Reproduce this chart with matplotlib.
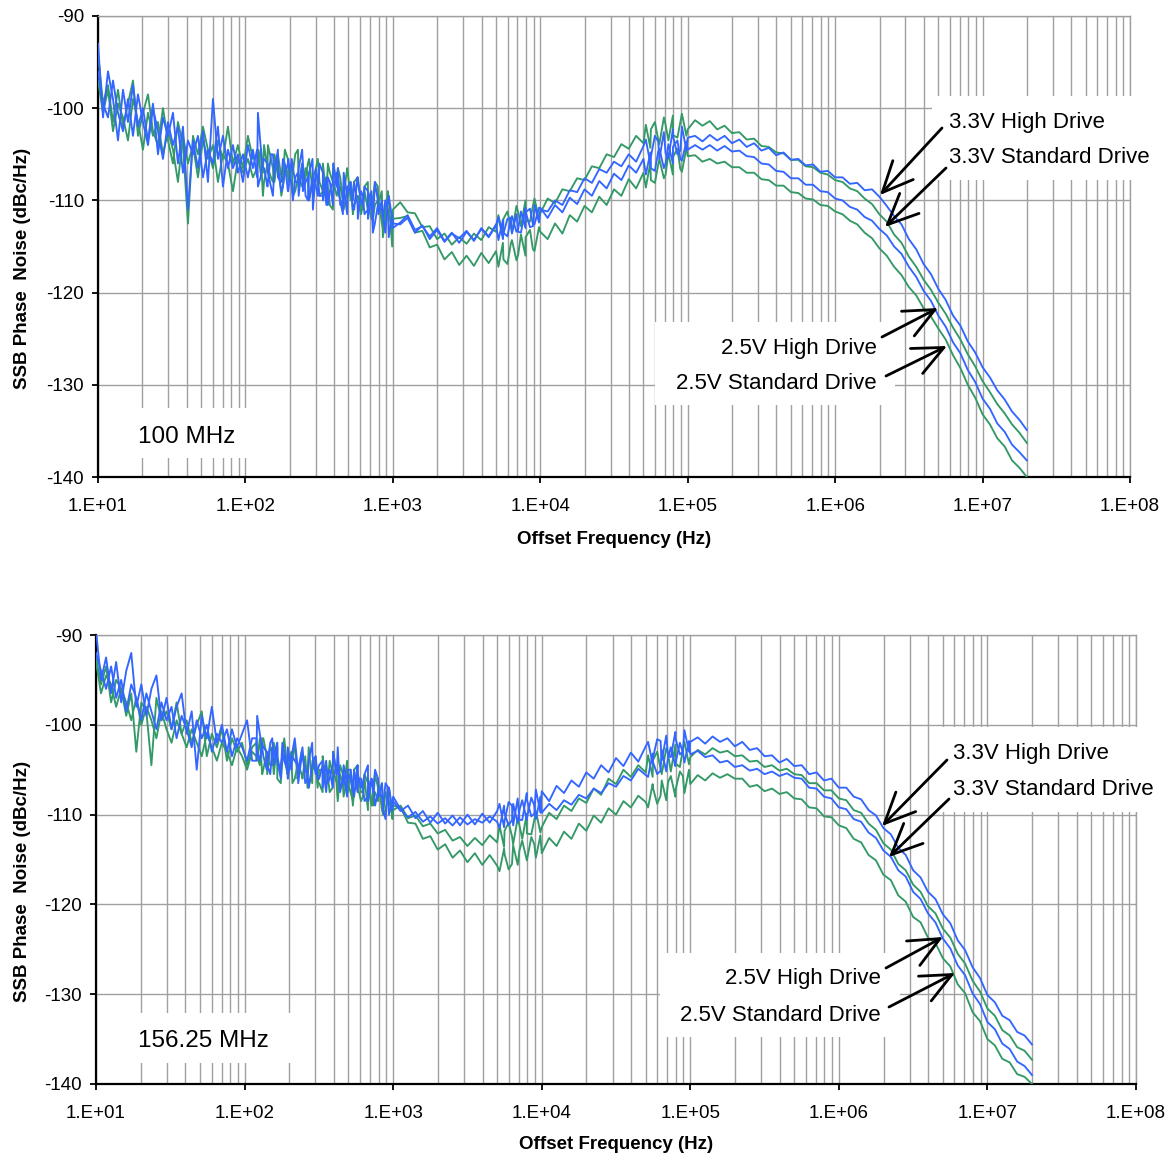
import numpy as np
import matplotlib
matplotlib.use('Agg')
import matplotlib.pyplot as plt
from matplotlib.ticker import FixedLocator, FuncFormatter, LogLocator, NullFormatter
from matplotlib.patches import Rectangle, FancyArrowPatch

plt.rcParams['font.family'] = ['Liberation Sans', 'DejaVu Sans']
plt.rcParams['axes.unicode_minus'] = False

W, H = 1166, 1157

# ---------------- sample frequencies (Hz) of the measurement segments
freq_lo = np.geomspace(10, 1000, 60)          # 10 Hz .. 1 kHz
freq_lo_x = np.geomspace(120, 990, 40)        # extra dense samples 120 Hz .. 1 kHz
freq_mid = 10 ** np.linspace(3.05, 5.0, 40)   # 1 kHz .. 100 kHz
freq_mid_x = np.concatenate([np.geomspace(5.2e3, 9.8e3, 10), np.geomspace(5.2e4, 9.8e4, 10)])
freq_hi = 10 ** np.linspace(5.05, 7.3, 46)    # 100 kHz .. 20 MHz

labels = ["3.3V High Drive", "3.3V Standard Drive", "2.5V High Drive", "2.5V Standard Drive"]

# ======================= 100 MHz (top) =======================
top_33hd_lo = [-93.0, -101.0, -96.0, -99.0, -103.5, -98.0, -101.5, -97.5, -102.0, -100.0,
               -103.5, -99.5, -105.0, -101.0, -103.0, -100.5, -106.0, -102.0, -111.0, -103.5,
               -106.5, -102.5, -108.0, -99.0, -105.5, -103.0, -106.5, -104.0, -107.0, -105.0,
               -107.5, -104.5, -100.5, -106.5, -108.0, -105.0, -107.5, -105.5, -109.0, -106.5,
               -108.0, -106.0, -110.0, -107.5, -109.5, -107.0, -110.5, -108.0, -106.5, -110.0,
               -108.5, -111.0, -108.0, -110.5, -109.0, -112.5, -110.0, -111.5, -110.0, -113.0]
top_33sd_lo = [-96.0, -99.5, -101.0, -97.0, -100.5, -102.5, -99.0, -103.0, -98.5, -101.5,
               -104.0, -100.0, -102.5, -105.5, -101.5, -104.0, -102.0, -107.0, -103.5, -105.0,
               -103.0, -107.5, -104.5, -106.0, -102.0, -108.5, -104.5, -106.5, -105.0, -108.0,
               -104.0, -106.5, -108.5, -105.5, -107.0, -109.5, -106.5, -108.5, -106.0, -110.0,
               -107.0, -109.0, -107.5, -111.0, -108.0, -109.5, -107.5, -110.5, -109.0, -111.5,
               -108.5, -110.0, -112.0, -109.5, -111.0, -113.5, -110.5, -112.0, -111.0, -112.5]
top_25hd_lo = [-94.0, -99.5, -97.5, -101.5, -98.0, -102.0, -99.5, -97.0, -103.0, -100.5,
               -98.5, -102.5, -104.0, -100.0, -103.5, -106.0, -101.5, -104.0, -112.5, -103.0,
               -105.0, -102.0, -104.5, -106.5, -103.5, -105.5, -102.0, -106.0, -104.0, -106.5,
               -103.0, -105.5, -104.5, -107.0, -104.0, -106.5, -105.0, -108.0, -105.5, -107.0,
               -104.5, -108.5, -106.0, -107.5, -105.5, -109.0, -106.0, -108.0, -106.5, -110.0,
               -107.0, -109.0, -107.5, -111.0, -108.0, -110.0, -108.5, -114.0, -109.0, -111.0]
top_25sd_lo = [-97.0, -100.5, -98.0, -102.5, -99.5, -101.0, -103.5, -99.0, -101.5, -104.5,
               -100.5, -103.0, -101.5, -105.0, -102.5, -104.5, -108.0, -103.0, -106.0, -104.0,
               -107.5, -103.5, -105.5, -104.0, -108.0, -105.0, -106.0, -109.0, -105.5, -107.0,
               -105.5, -107.5, -106.0, -109.5, -106.5, -108.0, -106.0, -108.5, -107.0, -109.5,
               -107.5, -108.5, -107.0, -110.0, -108.0, -109.0, -108.5, -111.0, -109.0, -110.0,
               -109.5, -111.5, -109.5, -110.5, -111.0, -112.0, -110.0, -113.0, -111.0, -112.0]

top_33hd_lox = [-107.5, -104.0, -106.5, -108.5, -105.0, -107.0, -104.5, -108.0, -106.0, -109.0,
                -105.5, -108.0, -106.5, -104.5, -109.5, -107.0, -105.5, -108.5, -106.0, -110.0,
                -107.5, -109.0, -106.0, -108.5, -110.5, -107.0, -109.5, -108.0, -111.0, -107.5,
                -110.0, -108.5, -112.0, -109.5, -108.0, -111.5, -110.0, -113.5, -109.5, -112.0]
top_33sd_lox = [-104.5, -107.5, -105.5, -106.0, -108.5, -106.5, -105.0, -109.0, -107.0, -105.5,
                -108.5, -107.5, -109.5, -106.0, -108.0, -110.0, -107.5, -106.5, -109.5, -107.5,
                -110.5, -108.0, -109.0, -107.0, -110.0, -108.5, -111.5, -109.0, -108.0, -110.5,
                -109.0, -111.5, -110.0, -109.0, -112.5, -110.5, -111.0, -110.0, -114.0, -111.5]
top_25hd_lox = [-105.0, -107.0, -104.0, -106.5, -105.5, -108.0, -105.0, -107.5, -104.5, -107.0,
                -106.5, -105.0, -108.5, -106.0, -107.5, -105.5, -109.0, -106.5, -108.0, -106.0,
                -109.5, -107.0, -106.0, -108.5, -107.5, -109.5, -106.5, -110.0, -108.0, -107.5,
                -110.5, -108.5, -109.0, -111.0, -108.0, -110.5, -109.0, -112.0, -110.0, -115.0]
top_25sd_lox = [-106.5, -104.5, -108.0, -106.0, -107.5, -105.0, -107.0, -109.5, -106.5, -108.0,
                -106.0, -109.0, -107.5, -108.5, -106.5, -110.0, -108.0, -107.0, -109.5, -108.5,
                -107.5, -110.5, -108.0, -109.5, -108.5, -111.0, -109.0, -108.0, -110.5, -109.5,
                -111.5, -109.0, -110.0, -112.0, -110.5, -109.5, -112.5, -110.5, -111.5, -113.0]

top_33hd_mid = [-112.4, -111.6, -113.2, -112.8, -113.9, -113.0, -114.4, -113.5, -114.6,
                -113.4, -114.3, -113.1, -114.0, -112.7, -113.6, -111.9, -113.4, -111.2, -112.8,
                -111.0, -111.2, -110.0, -110.5, -108.9, -109.1, -107.6, -108.1, -106.6, -107.0,
                -105.8, -106.3, -105.0, -105.8, -104.1, -105.3, -103.6, -104.9, -103.0, -104.6, -103.2]
top_33sd_mid = [-112.6, -111.9, -113.5, -112.7, -114.2, -113.2, -114.5, -113.6, -114.1,
                -113.3, -114.4, -113.0, -113.9, -112.6, -113.5, -112.0, -113.1, -111.3, -112.6,
                -110.8, -111.9, -110.5, -111.3, -109.7, -110.4, -108.8, -109.5, -107.9, -108.7,
                -107.1, -107.8, -106.2, -107.0, -105.5, -106.5, -104.7, -106.0, -104.2, -105.5, -104.5]
top_25hd_mid = [-110.2, -111.3, -111.4, -112.9, -112.8, -114.2, -113.6, -114.8, -114.0,
                -114.7, -113.6, -114.3, -112.9, -113.4, -112.0, -112.8, -111.3, -112.2, -110.6,
                -111.4, -109.8, -110.3, -108.8, -109.0, -107.6, -107.8, -106.3, -106.5, -105.0,
                -105.3, -103.9, -104.4, -103.0, -103.8, -102.3, -103.4, -101.8, -102.9, -101.5, -102.3]
top_25sd_mid = [-111.9, -111.7, -113.5, -113.3, -115.1, -114.8, -116.4, -115.6, -117.0,
                -116.0, -117.1, -115.7, -116.8, -115.5, -116.4, -114.7, -115.9, -114.0, -115.3,
                -113.4, -114.2, -112.5, -113.6, -111.6, -112.3, -110.6, -111.3, -109.6, -110.5,
                -108.8, -109.5, -107.7, -108.7, -107.0, -107.8, -106.1, -107.2, -105.3, -106.6, -105.2]

top_33hd_midx = [-111.8, -114.2, -112.0, -113.6, -111.5, -113.5, -110.8, -112.9, -110.5, -112.4,
                 -103.4, -106.0, -103.0, -105.5, -102.6, -105.4, -102.3, -105.0, -102.0, -104.6]
top_33sd_midx = [-114.3, -112.1, -113.9, -111.7, -113.4, -111.2, -113.0, -110.9, -112.6, -110.8,
                 -107.2, -104.8, -106.8, -104.4, -106.5, -103.9, -106.0, -103.5, -105.7, -103.6]
top_25hd_midx = [-111.6, -113.9, -111.2, -113.5, -110.6, -112.8, -110.0, -112.3, -109.8, -112.0,
                 -101.8, -104.3, -101.5, -103.9, -101.0, -103.5, -100.8, -103.2, -100.6, -103.0]
top_25sd_midx = [-117.2, -114.6, -116.9, -114.3, -116.5, -113.7, -116.0, -113.2, -115.5, -112.9,
                 -108.6, -105.9, -108.1, -105.5, -107.6, -104.9, -107.2, -104.4, -106.9, -104.3]

top_33hd_hi = [-103.0, -103.6, -102.9, -103.5, -103.0, -103.8, -103.4, -104.2, -103.8,
               -104.6, -104.3, -105.1, -104.8, -105.6, -105.5, -106.2, -106.1, -106.9, -106.8,
               -107.5, -107.5, -108.2, -108.1, -108.9, -108.8, -109.6, -110.6, -111.7, -112.6,
               -114.2, -115.3, -116.9, -118.0, -119.6, -120.8, -122.5, -123.6, -125.3, -126.5,
               -128.1, -129.2, -130.6, -131.6, -132.9, -133.8, -134.9]
top_33sd_hi = [-104.0, -104.5, -104.0, -104.6, -104.1, -104.7, -104.6, -105.2, -105.3,
               -106.0, -106.1, -106.8, -106.9, -107.6, -107.6, -108.3, -108.3, -109.0, -109.1,
               -109.8, -110.0, -110.7, -111.0, -111.8, -112.2, -113.1, -113.8, -115.0, -115.8,
               -117.2, -118.3, -119.8, -120.9, -122.5, -123.7, -125.4, -126.6, -128.4, -129.7,
               -131.5, -132.6, -134.2, -135.1, -136.5, -137.3, -138.2]
top_25hd_hi = [-101.3, -101.9, -101.4, -102.3, -101.9, -102.7, -102.6, -103.4, -103.3,
               -104.1, -104.2, -104.8, -104.9, -105.6, -105.6, -106.3, -106.4, -107.0, -107.2,
               -107.8, -108.0, -108.7, -109.0, -109.8, -110.4, -111.5, -112.3, -113.7, -114.6,
               -116.1, -117.2, -118.6, -119.7, -121.1, -122.3, -123.8, -125.1, -126.7, -128.0,
               -129.6, -130.8, -132.1, -133.1, -134.3, -135.2, -136.3]
top_25sd_hi = [-105.1, -105.8, -105.5, -106.0, -105.8, -106.4, -106.4, -107.0, -107.0,
               -107.7, -107.8, -108.4, -108.4, -109.1, -109.2, -109.8, -109.9, -110.5, -110.6,
               -111.2, -111.5, -112.2, -112.6, -113.5, -114.1, -115.2, -116.0, -117.2, -118.1,
               -119.4, -120.3, -121.7, -122.6, -123.9, -125.1, -126.8, -128.2, -130.0, -131.4,
               -133.2, -134.3, -135.8, -136.7, -138.2, -139.0, -140.0]

# ======================= 156.25 MHz (bottom) =======================
bot_33hd_lo = [-89.5, -95.0, -92.5, -96.5, -93.0, -97.5, -94.0, -92.0, -98.0, -95.5,
               -99.0, -96.0, -94.5, -99.5, -97.0, -100.5, -98.0, -96.5, -101.0, -98.5,
               -105.0, -99.0, -101.5, -98.0, -102.0, -100.0, -103.0, -100.5, -102.5, -101.0,
               -99.5, -104.0, -99.0, -102.5, -104.5, -101.5, -103.5, -102.0, -105.0, -103.0,
               -104.5, -102.5, -106.0, -103.5, -105.0, -104.0, -106.5, -104.5, -102.5, -106.0,
               -105.0, -107.0, -105.5, -106.5, -104.5, -107.5, -106.0, -109.5, -107.0, -108.5]
bot_33sd_lo = [-92.0, -94.0, -96.0, -93.5, -97.0, -95.0, -98.5, -95.5, -97.0, -99.5,
               -96.5, -98.5, -100.5, -97.5, -99.5, -98.0, -101.5, -99.0, -100.5, -102.5,
               -99.5, -101.5, -100.0, -103.0, -101.0, -102.0, -100.5, -103.5, -101.5, -102.5,
               -104.0, -101.5, -103.0, -102.0, -104.5, -102.5, -104.0, -103.0, -105.0, -103.5,
               -104.5, -103.5, -105.5, -104.0, -106.0, -104.5, -105.5, -107.0, -105.0, -106.5,
               -105.5, -107.5, -106.0, -107.0, -108.0, -106.5, -107.5, -109.0, -107.0, -108.0]
bot_25hd_lo = [-92.5, -95.5, -93.5, -97.5, -95.0, -96.0, -99.0, -96.5, -103.0, -97.5,
               -98.5, -104.5, -97.0, -99.5, -98.5, -100.5, -97.5, -101.0, -99.5, -102.0,
               -100.0, -98.5, -103.5, -101.0, -102.5, -100.5, -104.0, -101.5, -103.0, -102.0,
               -104.5, -102.5, -103.5, -101.5, -105.5, -103.0, -104.5, -103.5, -105.0, -104.0,
               -106.0, -103.5, -105.5, -104.5, -107.0, -105.0, -106.5, -105.5, -108.0, -105.5,
               -106.5, -108.5, -106.0, -107.5, -106.5, -109.0, -107.0, -110.0, -108.0, -109.5]
bot_25sd_lo = [-93.0, -96.5, -94.5, -95.5, -98.0, -96.0, -97.5, -99.5, -97.0, -100.0,
               -98.0, -99.5, -101.5, -98.5, -100.5, -102.0, -99.5, -101.0, -102.5, -100.5,
               -102.0, -103.5, -101.0, -102.5, -104.0, -102.0, -103.0, -104.5, -102.5, -103.5,
               -105.0, -103.0, -104.0, -105.5, -103.5, -104.5, -106.0, -104.0, -105.5, -106.5,
               -104.5, -106.0, -107.0, -105.0, -106.5, -107.5, -105.5, -107.0, -108.5, -106.5,
               -107.5, -109.0, -107.0, -108.0, -109.5, -107.5, -108.5, -110.0, -108.5, -109.0]

bot_33hd_lox = [-104.0, -101.0, -103.5, -105.0, -102.0, -104.5, -102.5, -105.5, -103.0, -106.0,
                -103.5, -101.5, -105.0, -103.0, -106.5, -104.0, -102.0, -105.5, -104.5, -107.0,
                -104.0, -106.0, -103.0, -105.5, -107.5, -104.5, -106.5, -105.0, -108.0, -104.5,
                -107.0, -105.5, -108.5, -106.0, -105.0, -108.0, -106.5, -110.5, -107.0, -109.5]
bot_33sd_lox = [-101.5, -104.0, -102.5, -103.0, -105.5, -103.5, -102.0, -106.0, -104.0, -102.5,
                -105.0, -104.0, -106.5, -103.5, -105.0, -107.0, -104.5, -103.5, -106.0, -104.5,
                -107.5, -105.0, -106.0, -104.5, -107.0, -105.5, -108.0, -106.0, -105.0, -107.5,
                -106.0, -108.5, -107.0, -106.0, -109.0, -107.5, -108.0, -106.5, -110.0, -108.5]
bot_25hd_lox = [-102.0, -104.5, -101.5, -103.5, -102.5, -105.5, -102.0, -104.5, -101.5, -104.0,
                -103.5, -102.0, -105.5, -103.0, -104.5, -102.5, -106.5, -103.5, -105.0, -103.5,
                -106.5, -104.0, -103.0, -105.5, -104.5, -107.0, -104.0, -107.5, -105.0, -104.5,
                -107.5, -105.5, -106.0, -108.5, -105.5, -108.0, -106.5, -109.5, -107.0, -110.5]
bot_25sd_lox = [-103.5, -101.5, -105.0, -103.0, -104.5, -102.0, -104.0, -106.5, -103.5, -105.0,
                -103.0, -106.0, -104.5, -105.5, -103.5, -107.0, -105.0, -104.0, -106.5, -105.5,
                -104.5, -107.5, -105.0, -106.5, -105.5, -108.0, -106.0, -105.0, -107.5, -106.5,
                -108.5, -106.0, -107.0, -109.0, -107.5, -106.5, -109.5, -107.5, -108.5, -110.0]

bot_33hd_mid = [-109.6, -109.0, -110.4, -109.6, -110.9, -109.8, -111.0, -110.1, -111.2,
                -110.0, -111.1, -109.9, -110.9, -109.6, -110.7, -109.0, -110.6, -108.3, -109.9,
                -107.4, -108.5, -106.8, -107.6, -106.2, -106.9, -105.3, -106.0, -104.5, -105.3,
                -103.7, -104.6, -103.1, -104.1, -102.4, -103.6, -101.8, -103.4, -101.5, -103.0, -101.9]
bot_33sd_mid = [-109.4, -110.3, -109.7, -110.8, -110.2, -111.0, -110.4, -111.2, -110.3,
                -111.1, -110.5, -110.9, -110.2, -110.8, -109.9, -110.6, -109.5, -110.4, -109.0,
                -109.8, -108.8, -109.5, -108.4, -108.9, -107.8, -108.2, -107.1, -107.6, -106.5,
                -106.9, -105.7, -106.2, -104.9, -105.6, -104.2, -105.1, -103.7, -104.3, -103.1, -103.3]
bot_25hd_mid = [-109.0, -110.4, -110.1, -111.3, -111.0, -112.1, -111.7, -112.9, -112.5,
                -113.5, -112.6, -113.4, -112.3, -113.1, -111.8, -112.4, -111.2, -112.1, -110.6,
                -111.4, -109.8, -110.5, -109.0, -109.6, -108.2, -108.7, -107.1, -107.8, -106.0,
                -106.6, -105.0, -105.8, -104.5, -105.3, -103.9, -104.9, -103.2, -104.3, -102.7, -103.6]
bot_25sd_mid = [-109.2, -110.9, -111.0, -112.7, -112.4, -113.9, -113.3, -114.8, -114.0,
                -115.3, -114.3, -115.6, -114.5, -115.7, -114.4, -115.5, -114.0, -115.1, -113.3,
                -114.3, -112.6, -113.5, -111.9, -112.7, -111.0, -111.8, -110.1, -110.9, -109.3,
                -110.0, -108.5, -109.2, -107.9, -108.6, -107.1, -107.9, -106.4, -107.3, -105.7, -106.6]

bot_33hd_midx = [-108.8, -111.4, -108.6, -111.2, -108.2, -110.6, -107.6, -110.2, -107.2, -109.8,
                 -101.9, -104.3, -101.6, -104.0, -101.2, -103.6, -100.8, -103.3, -100.6, -103.0]
bot_33sd_midx = [-111.5, -109.0, -111.2, -108.8, -110.9, -108.4, -110.6, -108.1, -110.5, -108.0,
                 -105.8, -103.2, -105.5, -102.8, -105.2, -102.5, -104.6, -102.0, -104.2, -101.8]
bot_25hd_midx = [-111.2, -113.6, -110.9, -113.3, -110.4, -112.7, -109.9, -112.2, -109.6, -112.0,
                 -103.4, -105.8, -103.0, -105.5, -102.6, -105.2, -102.2, -104.7, -101.9, -104.4]
bot_25sd_midx = [-116.3, -113.8, -116.1, -113.4, -115.6, -112.9, -115.1, -112.5, -114.8, -112.3,
                 -109.2, -106.6, -108.8, -106.2, -108.4, -105.7, -108.0, -105.2, -107.6, -105.0]

bot_33hd_hi = [-101.4, -102.1, -101.3, -101.9, -101.5, -102.4, -101.9, -102.8, -102.6,
               -103.5, -103.4, -104.2, -103.8, -104.6, -104.5, -105.5, -105.3, -106.2, -106.0,
               -107.0, -107.0, -108.0, -108.3, -109.5, -110.1, -111.5, -112.2, -113.7, -114.5,
               -116.2, -117.0, -118.6, -119.4, -121.1, -122.1, -124.0, -125.1, -127.0, -128.2,
               -130.1, -130.9, -132.4, -132.9, -134.2, -134.6, -135.6]
bot_33sd_hi = [-102.9, -103.6, -103.4, -104.2, -104.0, -104.7, -104.5, -105.1, -104.9,
               -105.5, -105.2, -105.7, -105.4, -105.9, -106.0, -107.0, -107.1, -108.0, -108.2,
               -109.2, -109.4, -110.5, -110.8, -112.0, -112.6, -114.0, -114.7, -116.2, -116.9,
               -118.6, -119.4, -121.0, -122.0, -123.8, -124.9, -126.8, -127.9, -129.9, -131.1,
               -133.1, -133.9, -135.5, -136.1, -137.5, -138.0, -139.0]
bot_25hd_hi = [-102.8, -103.3, -102.6, -103.1, -102.9, -103.5, -103.4, -104.1, -104.0,
               -104.7, -104.5, -105.1, -104.9, -105.5, -105.6, -106.5, -106.5, -107.3, -107.3,
               -108.2, -108.4, -109.5, -109.8, -111.0, -111.7, -113.2, -113.9, -115.5, -116.2,
               -117.8, -118.6, -120.2, -121.0, -122.7, -123.7, -125.5, -126.6, -128.5, -129.7,
               -131.6, -132.4, -134.0, -134.6, -135.9, -136.3, -137.3]
bot_25sd_hi = [-105.6, -106.2, -105.4, -105.9, -105.5, -106.0, -106.0, -106.9, -106.7,
               -107.4, -107.1, -107.7, -107.5, -108.2, -108.3, -109.2, -109.3, -110.2, -110.3,
               -111.2, -111.5, -112.7, -113.1, -114.5, -115.1, -116.7, -117.3, -119.0, -119.7,
               -121.4, -122.0, -123.7, -124.3, -126.0, -126.9, -128.9, -129.9, -132.0, -133.0,
               -135.0, -135.7, -137.2, -137.6, -138.9, -139.2, -140.0]

top_series = {
    "3.3V High Drive": (top_33hd_lo, top_33hd_lox, top_33hd_mid, top_33hd_midx, top_33hd_hi),
    "3.3V Standard Drive": (top_33sd_lo, top_33sd_lox, top_33sd_mid, top_33sd_midx, top_33sd_hi),
    "2.5V High Drive": (top_25hd_lo, top_25hd_lox, top_25hd_mid, top_25hd_midx, top_25hd_hi),
    "2.5V Standard Drive": (top_25sd_lo, top_25sd_lox, top_25sd_mid, top_25sd_midx, top_25sd_hi),
}
bot_series = {
    "3.3V High Drive": (bot_33hd_lo, bot_33hd_lox, bot_33hd_mid, bot_33hd_midx, bot_33hd_hi),
    "3.3V Standard Drive": (bot_33sd_lo, bot_33sd_lox, bot_33sd_mid, bot_33sd_midx, bot_33sd_hi),
    "2.5V High Drive": (bot_25hd_lo, bot_25hd_lox, bot_25hd_mid, bot_25hd_midx, bot_25hd_hi),
    "2.5V Standard Drive": (bot_25sd_lo, bot_25sd_lox, bot_25sd_mid, bot_25sd_midx, bot_25sd_hi),
}
segment_freqs = (freq_lo, freq_lo_x, freq_mid, freq_mid_x, freq_hi)

BLUE = '#3366FF'
GREEN = '#339966'
colors = {"3.3V High Drive": BLUE, "3.3V Standard Drive": BLUE,
          "2.5V High Drive": GREEN, "2.5V Standard Drive": GREEN}
draw_order = ["2.5V Standard Drive", "2.5V High Drive", "3.3V Standard Drive", "3.3V High Drive"]

xticks = [1e1, 1e2, 1e3, 1e4, 1e5, 1e6, 1e7, 1e8]
yticks = [-140, -130, -120, -110, -100, -90]

GRID = '#a0a0a0'


def fx(x):
    return x / W


def fy(y):
    return 1 - y / H


fig = plt.figure(figsize=(W / 100, H / 100), dpi=100)
ax_top = fig.add_axes([fx(98), fy(477), fx(1130) - fx(98), fy(16) - fy(477)])
ax_bot = fig.add_axes([fx(96), fy(1084), fx(1136) - fx(96), fy(635) - fy(1084)])


def setup(ax, ylab_xy, xlab_xy):
    ax.set_xscale('log')
    ax.set_xlim(10, 1e8)
    ax.set_ylim(-140, -90)
    ax.yaxis.set_major_locator(FixedLocator(yticks))
    ax.xaxis.set_major_locator(FixedLocator(xticks))
    ax.xaxis.set_minor_locator(LogLocator(base=10, subs=np.arange(2, 10), numticks=100))
    ax.xaxis.set_major_formatter(FuncFormatter(lambda v, p: '1.E+%02d' % int(round(np.log10(v)))))
    ax.xaxis.set_minor_formatter(NullFormatter())
    ax.set_axisbelow(True)
    ax.grid(True, which='both', axis='x', color=GRID, lw=1.0)
    ax.grid(True, which='major', axis='y', color=GRID, lw=1.0)
    ax.tick_params(axis='x', which='minor', length=0)
    ax.tick_params(axis='x', which='major', direction='out', length=4, width=1.3, labelsize=13.5, pad=11)
    ax.tick_params(axis='y', which='major', direction='out', length=4, width=1.3, labelsize=13.5, pad=6)
    for s in ('left', 'bottom'):
        ax.spines[s].set_color('black')
        ax.spines[s].set_linewidth(1.6)
    for s in ('top', 'right'):
        ax.spines[s].set_color(GRID)
        ax.spines[s].set_linewidth(1.0)
    ax.set_ylabel('SSB Phase  Noise (dBc/Hz)', fontsize=13.5, fontweight='bold')
    ax.yaxis.set_label_coords(*ylab_xy)
    ax.set_xlabel('Offset Frequency (Hz)', fontsize=13.5, fontweight='bold')
    ax.xaxis.set_label_coords(*xlab_xy)


def draw(ax, series):
    for name in draw_order:
        f = np.concatenate(segment_freqs)
        v = np.concatenate([np.asarray(s, float) for s in series[name]])
        order = np.argsort(f, kind='stable')
        ax.plot(f[order], v[order], color=colors[name], lw=1.35, zorder=3)


setup(ax_top, (-0.065, 0.453), (0.5, -0.117))
setup(ax_bot, (-0.0625, 0.452), (0.5, -0.116))
draw(ax_top, top_series)
draw(ax_bot, bot_series)


def white_box(x0, y0, x1, y1):
    fig.add_artist(Rectangle((fx(x0), fy(y1)), fx(x1) - fx(x0), fy(y0) - fy(y1),
                             transform=fig.transFigure, facecolor='white',
                             edgecolor='none', zorder=1))


def label(x, y_base, s, ha, size=16):
    fig.text(fx(x), fy(y_base), s, ha=ha, va='baseline', fontsize=size, zorder=5)


def arrow(x0, y0, x1, y1):
    fig.add_artist(FancyArrowPatch((fx(x0), fy(y0)), (fx(x1), fy(y1)),
                                   transform=fig.transFigure,
                                   arrowstyle='->,head_length=1.1,head_width=0.5',
                                   mutation_scale=20, lw=2.0, color='black',
                                   shrinkA=0, shrinkB=0, zorder=6))


# ---- top panel annotations
white_box(932, 96, 1160, 180)
white_box(655, 322, 895, 405)
white_box(112, 408, 258, 458)
label(949, 128, labels[0], 'left')
label(949, 163, labels[1], 'left')
label(877, 354, labels[2], 'right')
label(877, 389, labels[3], 'right')
label(138, 443, '100 MHz', 'left', size=17.5)
arrow(942, 128, 880, 195)
arrow(946, 168, 885, 227)
arrow(882, 337, 938, 308)
arrow(886, 376, 947, 346)

# ---- bottom panel annotations
white_box(935, 727, 1166, 812)
white_box(660, 953, 900, 1037)
white_box(112, 1013, 300, 1063)
label(953, 759, labels[0], 'left')
label(953, 795, labels[1], 'left')
label(881, 984, labels[2], 'right')
label(881, 1021, labels[3], 'right')
label(138, 1047, '156.25 MHz', 'left', size=17.5)
arrow(947, 760, 882, 826)
arrow(949, 799, 889, 857)
arrow(886, 968, 943, 937)
arrow(889, 1007, 955, 973)

fig.savefig('out.png', dpi=100, facecolor='white')
